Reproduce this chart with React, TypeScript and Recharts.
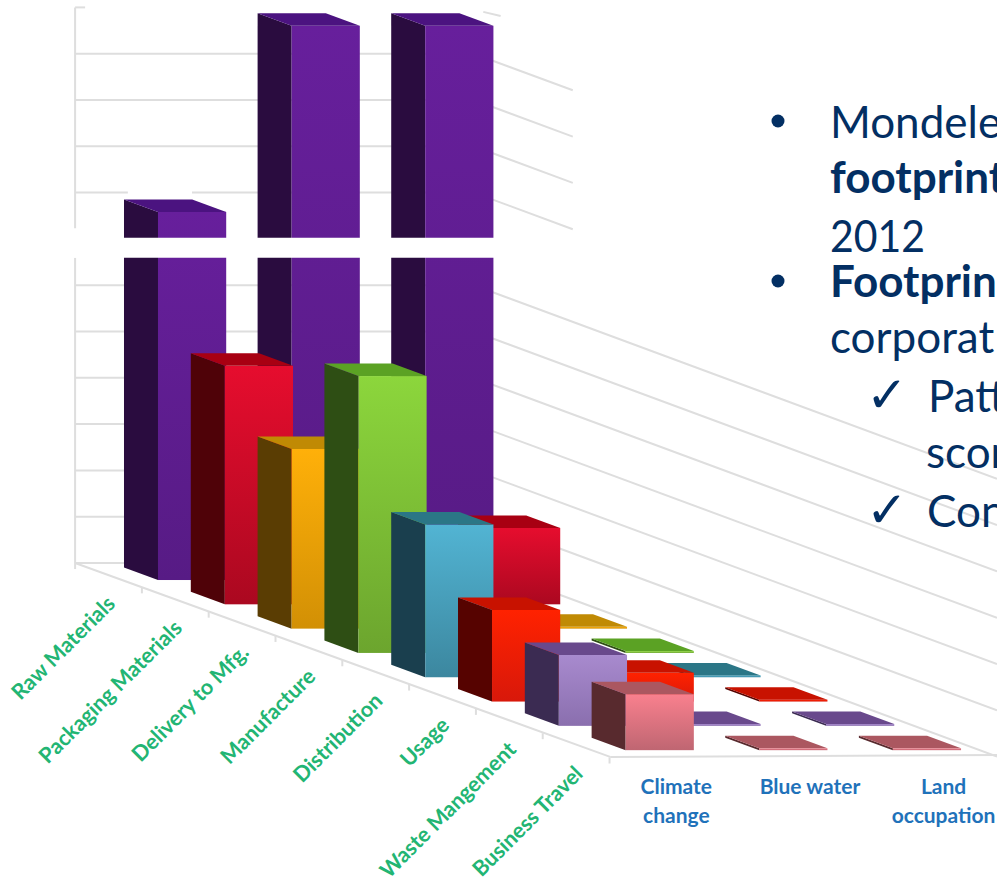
import React from "react";
import { Bar, ComposedChart, ReferenceArea, ReferenceDot, ReferenceLine, XAxis, YAxis } from "recharts";

// Footprint contribution per life-cycle stage, in units where ten equals one gridline.
const categories = [
  "Raw Materials",
  "Packaging Materials",
  "Delivery to Mfg.",
  "Manufacture",
  "Distribution",
  "Usage",
  "Waste Mangement",
  "Business Travel",
];
const impactNames = [["Climate", "change"], ["Blue water"], ["Land", "occupation"]];
const climateChange = [79.5, 51.5, 38.8, 59.8, 33, 19.8, 15.3, 12.1];
const blueWater = [119.7, 2, 1.5, 1.5, 2, 6.2, 0.4, 0.4];
const landOccupation = [119.7, 16.5, 0.4, 0.4, 0.4, 0.4, 0.4, 0.4];
const gridLevelsLower = [10, 20, 30, 40, 50, 60];
const gridLevelsUpper = [80, 90, 100, 110];

// face colours per stage: lit front (top, bottom), side, top
const frontTop = ["#671f9c", "#e60d2e", "#ffb009", "#8cd63c", "#52b4d3", "#ff2200", "#a88ace", "#f9808e"];
const frontBottom = ["#571b85", "#ab0820", "#d29005", "#6ca52e", "#3c879f", "#d8180a", "#8a6fae", "#bf6672"];
const sideColor = ["#2a0c3f", "#4f0208", "#5a3d03", "#2e4e14", "#1a3f4e", "#560300", "#3b2b52", "#582a2e"];
const topColor = ["#4b1380", "#a80012", "#c08a04", "#5ba224", "#2b7686", "#c81200", "#69498c", "#ab5760"];

const rowDrop = 5.25; // value units the floor falls per stage
const floorLevel = 3.67;
const wallSlot = -1.75;
const cornerSlot = 4.22;
const wallSlope = 5.34;
const depthX = 34;
const depthY = 12.5;
const faceScale = 1.018; // front faces touch slightly more than one slot
const gridColor = "#dedede";

const impacts = [climateChange, blueWater, landOccupation];
const rows = categories.flatMap((_, i) =>
  impacts.map((values, j) => ({
    slot: i + 2 * j,
    stage: i,
    range: [-rowDrop * i, values[i] - rowDrop * i],
  })),
);

function Block(props: any) {
  const { x: bandX, y, width: bandWidth, height, payload } = props;
  const k = payload.stage;
  const width = bandWidth * faceScale;
  const x = bandX + bandWidth / 2 - width / 2;
  const h = Math.abs(height);
  const top = height < 0 ? y + height : y;
  const side = `${x},${top} ${x},${top + h} ${x - depthX},${top + h - depthY} ${x - depthX},${top - depthY}`;
  const lid = `${x},${top} ${x + width},${top} ${x + width - depthX},${top - depthY} ${x - depthX},${top - depthY}`;
  return (
    <g>
      <polygon points={side} fill={sideColor[k]} />
      <rect x={x} y={top} width={width} height={h} fill={`url(#front${k})`} />
      <polygon points={lid} fill={topColor[k]} />
    </g>
  );
}

function StageLabel(props: any) {
  const { cx, cy, name } = props;
  return (
    <text
      x={cx}
      y={cy}
      transform={`rotate(-45 ${cx} ${cy})`}
      textAnchor="end"
      fontFamily="Lato"
      fontWeight={700}
      fontSize={21.5}
      fill="#22b573"
    >
      {name}
    </text>
  );
}

function ImpactLabel(props: any) {
  const { cx, cy, lines } = props;
  return (
    <text x={cx} y={cy} textAnchor="middle" fontFamily="Lato" fontWeight={700} fontSize={21} fill="#1f72ba">
      {lines.map((line: string, n: number) => (
        <tspan key={line} x={cx} dy={n === 0 ? 0 : 29}>
          {line}
        </tspan>
      ))}
    </text>
  );
}

const navy = "#032f63";
const bodyFont = { fontFamily: "Lato", fontSize: 44, fill: navy };
const checkFont = { fontFamily: "DejaVu Sans", fontWeight: 700, fontSize: 50, fill: navy };

export default function App() {
  const seg = (x1: number, y1: number, x2: number, y2: number, key: string) => (
    <ReferenceLine
      key={key}
      segment={[{ x: x1, y: y1 }, { x: x2, y: y2 }]}
      stroke={gridColor}
      strokeWidth={2}
      ifOverflow="visible"
      zIndex={100}
    />
  );
  return (
    <div style={{ position: "absolute", left: 0, top: 0, width: 997, height: 880, overflow: "hidden", background: "#fff" }}>
      <ComposedChart
        width={997}
        height={880}
        data={rows}
        barCategoryGap={0}
        barGap={0}
        margin={{ top: 0, right: 0, bottom: 0, left: 0 }}
      >
        <defs>
          {categories.map((_, k) => (
            <linearGradient key={k} id={`front${k}`} x1="0" y1="0" x2="0" y2="1">
              <stop offset="0" stopColor={frontTop[k]} />
              <stop offset="1" stopColor={frontBottom[k]} />
            </linearGradient>
          ))}
        </defs>
        <XAxis dataKey="slot" type="number" domain={[-2.874, 12.05]} hide />
        <YAxis type="number" domain={[-64.79, 125.27]} hide />

        {/* back wall and side wall rules */}
        {seg(wallSlot, floorLevel, wallSlot, floorLevel + 120, "wall")}
        {seg(wallSlot, floorLevel + 120, wallSlot + 0.15, floorLevel + 120, "wallCap")}
        {seg(4.36, 122.7, 4.62, 121.8, "sideCap")}
        {[0, ...gridLevelsLower, ...gridLevelsUpper.slice(1)].map((l) =>
          seg(wallSlot, floorLevel + l, cornerSlot, floorLevel + l, `back${l}`),
        )}
        {seg(wallSlot, floorLevel + 80, -0.96, floorLevel + 80, "backLeft80")}
        {seg(0, floorLevel + 80, cornerSlot, floorLevel + 80, "backRight80")}
        {[0, ...gridLevelsLower].map((l) =>
          seg(cornerSlot, floorLevel + l, 12.05, floorLevel + l - wallSlope * (12.05 - cornerSlot), `side${l}`),
        )}
        {gridLevelsUpper.map((l) =>
          seg(cornerSlot, floorLevel + l, 5.7, floorLevel + l - wallSlope * (5.7 - cornerSlot), `upper${l}`),
        )}

        {/* floor edges and stage ticks */}
        {seg(wallSlot, floorLevel, 6.26, -38.2, "stageAxis")}
        {seg(6.26, -38.2, 12.05, -37.8, "impactAxis")}
        {categories.concat("").map((_, i) =>
          seg(wallSlot + i, floorLevel - rowDrop * i, wallSlot + i, floorLevel - rowDrop * i - 1.3, `tick${i}`),
        )}

        <Bar dataKey="range" isAnimationActive={false} shape={<Block />} />

        {/* axis break */}
        <ReferenceArea x1={-1.9} x2={4.7} y1={69.6} y2={73.9} fill="#fff" fillOpacity={1} stroke="none" ifOverflow="visible" zIndex={900} />
        <ReferenceArea x1={-1.9} x2={-1.6} y1={69.6} y2={76} fill="#fff" fillOpacity={1} stroke="none" ifOverflow="visible" zIndex={900} />

        {categories.map((name, i) => (
          <ReferenceDot
            key={name}
            x={-1.13 + i}
            y={-5.4 - rowDrop * i}
            r={0}
            ifOverflow="visible"
            shape={(p: any) => <StageLabel {...p} name={name} />}
          />
        ))}
        {impactNames.map((lines, j) => (
          <ReferenceDot
            key={lines[0]}
            x={7.25 + 2 * j}
            y={-46.2}
            r={0}
            ifOverflow="visible"
            shape={(p: any) => <ImpactLabel {...p} lines={lines} />}
          />
        ))}
      </ComposedChart>

      <svg width={997} height={880} style={{ position: "absolute", left: 0, top: 0, pointerEvents: "none" }}>
        <circle cx={778} cy={121} r={6.5} fill={navy} />
        <circle cx={778} cy={281} r={6.5} fill={navy} />
        <text x={830} y={138} {...bodyFont}>Mondele</text>
        <text x={830} y={193} {...bodyFont} fontWeight={700}>footprint</text>
        <text x={830} y={252} {...bodyFont} textLength={95} lengthAdjust="spacingAndGlyphs">2012</text>
        <text x={830} y={297} {...bodyFont} fontWeight={700}>Footprin</text>
        <text x={830} y={353} {...bodyFont}>corporat</text>
        <text x={866} y={412} {...checkFont}>✓</text>
        <text x={928} y={412} {...bodyFont}>Patt</text>
        <text x={926} y={468} {...bodyFont}>scor</text>
        <text x={866} y={527} {...checkFont}>✓</text>
        <text x={927} y={527} {...bodyFont}>Con</text>
      </svg>
    </div>
  );
}
